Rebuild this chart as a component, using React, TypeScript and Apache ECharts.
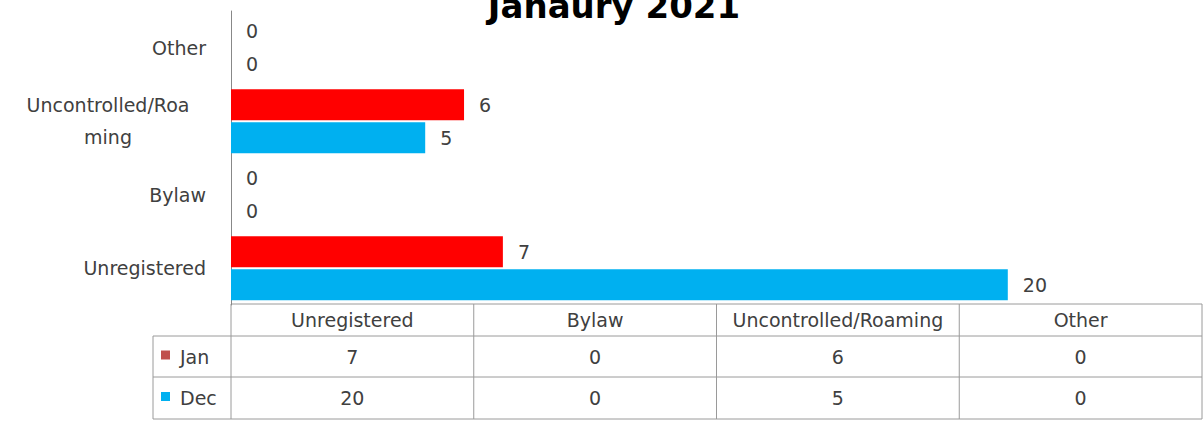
import React, { useEffect, useRef } from "react";
import * as echarts from "echarts";

const categories = ["Unregistered", "Bylaw", "Uncontrolled/Roaming", "Other"];
const seriesNames = ["Jan", "Dec"];
const janValues = [7, 0, 6, 0];
const decValues = [20, 0, 5, 0];
const barColors = ["#FF0000", "#00B0F0"];
const legendColors = ["#C0504D", "#00B0F0"];
const titleText = "Janaury 2021";

const FONT = "DejaVu Sans";
const FS = 19;
const TXT = "#404040";
const LINE = "#9a9a9a";

function wrapLabel(v: string): string {
  const max = 16;
  if (v.length <= max) return v;
  const parts: string[] = [];
  for (let i = 0; i < v.length; i += max) parts.push(v.slice(i, i + max));
  return parts.map((p) => "{w|" + p + "}").join("\n");
}

export default function App() {
  const ref = useRef<HTMLDivElement>(null);
  useEffect(() => {
    document.body.style.margin = "0";
    if (!ref.current) return;
    const chart = echarts.init(ref.current, undefined, { renderer: "svg" });

    const gridLeft = 231;
    const tableRight = 1202;
    const colW = (tableRight - gridLeft) / categories.length;
    const rows = [304, 336, 377, 419];
    const legendLeft = 153;
    const font = FS + "px '" + FONT + "'";

    const g: any[] = [];
    // title
    g.push({
      type: "text",
      x: 614,
      y: 6,
      style: {
        text: titleText,
        font: "bold 34px '" + FONT + "'",
        fill: "#000",
        align: "center",
        verticalAlign: "middle",
      },
    });
    // horizontal lines
    g.push({ type: "line", shape: { x1: gridLeft, y1: rows[0], x2: tableRight, y2: rows[0] }, style: { stroke: LINE, lineWidth: 1 } });
    for (let r = 1; r < rows.length; r++) {
      g.push({ type: "line", shape: { x1: legendLeft, y1: rows[r], x2: tableRight, y2: rows[r] }, style: { stroke: LINE, lineWidth: 1 } });
    }
    // vertical lines
    g.push({ type: "line", shape: { x1: legendLeft, y1: rows[1], x2: legendLeft, y2: rows[3] }, style: { stroke: LINE, lineWidth: 1 } });
    for (let i = 0; i <= categories.length; i++) {
      const x = gridLeft + i * colW;
      g.push({ type: "line", shape: { x1: x, y1: rows[0], x2: x, y2: rows[3] }, style: { stroke: LINE, lineWidth: 1 } });
    }
    // header texts
    categories.forEach((c, i) => {
      g.push({
        type: "text",
        x: gridLeft + (i + 0.5) * colW,
        y: (rows[0] + rows[1]) / 2,
        style: { text: c, font, fill: TXT, align: "center", verticalAlign: "middle" },
      });
    });
    const allValues = [janValues, decValues];
    allValues.forEach((vals, r) => {
      const cy = (rows[r + 1] + rows[r + 2]) / 2;
      g.push({
        type: "rect",
        shape: { x: 161, y: cy - 6, width: 9, height: 9 },
        style: { fill: legendColors[r] },
      });
      g.push({
        type: "text",
        x: 180,
        y: cy,
        style: { text: seriesNames[r], font, fill: TXT, align: "left", verticalAlign: "middle" },
      });
      vals.forEach((v, i) => {
        g.push({
          type: "text",
          x: gridLeft + (i + 0.5) * colW,
          y: cy,
          style: { text: String(v), font, fill: TXT, align: "center", verticalAlign: "middle" },
        });
      });
    });

    chart.setOption({
      animation: false,
      backgroundColor: "#ffffff",
      grid: { left: gridLeft, top: 11, width: tableRight - gridLeft, height: 294, containLabel: false },
      xAxis: {
        type: "value",
        min: 0,
        max: 25,
        show: true,
        axisLine: { show: false },
        axisTick: { show: false },
        axisLabel: { show: false },
        splitLine: { show: false },
      },
      yAxis: {
        type: "category",
        data: categories,
        axisLine: { show: true, lineStyle: { color: "#888888", width: 1 } },
        axisTick: { show: false },
        axisLabel: {
          margin: 25,
          fontFamily: FONT,
          fontSize: FS,
          color: TXT,
          formatter: (v: string) => wrapLabel(v),
          rich: {
            w: { width: 196, align: "center", lineHeight: 32, fontFamily: FONT, fontSize: FS, color: TXT },
          },
        },
      },
      series: seriesNames.map((name, s) => ({
        name,
        type: "bar",
        data: s === 0 ? janValues : decValues,
        barWidth: 31,
        barGap: "6%",
        itemStyle: { color: barColors[s] },
        label: {
          show: true,
          position: "right",
          distance: 15,
          fontFamily: FONT,
          fontSize: FS,
          color: TXT,
        },
      })),
      graphic: g,
    });
    return () => chart.dispose();
  }, []);
  return <div ref={ref} style={{ width: 1203, height: 421 }} />;
}
